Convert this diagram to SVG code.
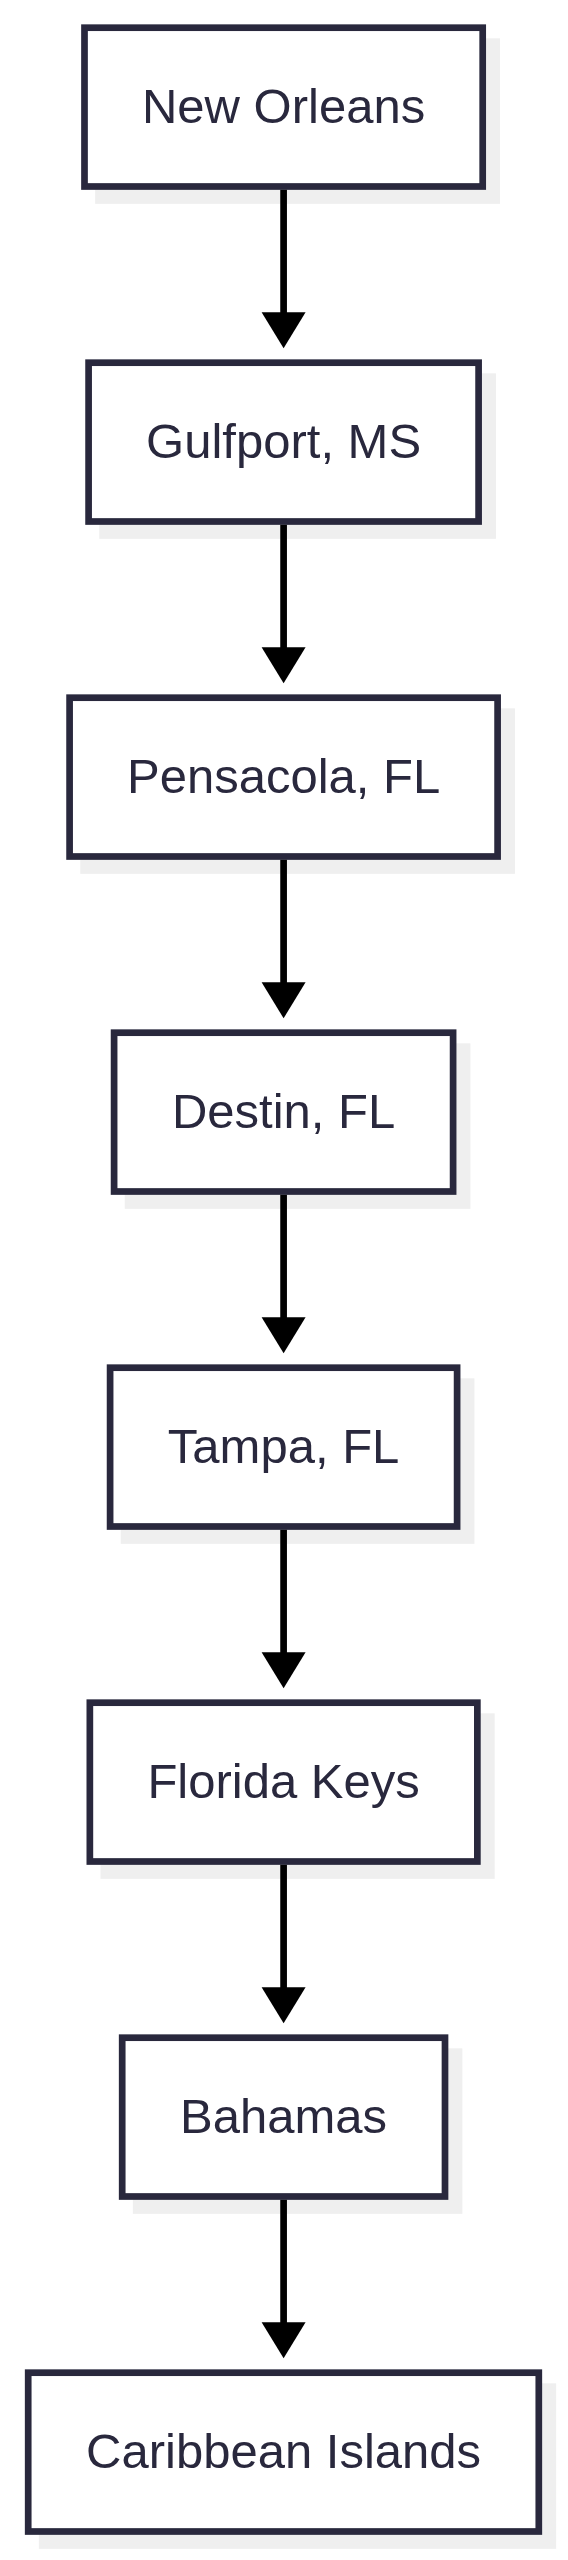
<svg xmlns="http://www.w3.org/2000/svg" xmlns:xlink="http://www.w3.org/1999/xlink" width="568" height="2560" viewBox="0 0 568 2560">
<style>
.shadow{fill:#efefef;stroke:none}
.box{fill:#ffffff;stroke:#29283d;stroke-width:6.7}
.lbl{font-family:"Liberation Sans",Arial,sans-serif;font-size:49px;fill:#29283d;text-anchor:middle}
.edge{stroke:#000000;stroke-width:6.7;fill:none}
.head{fill:#000000}
</style>
<defs>
<path id="ah" class="head" d="M-22,0 L22,0 L0,36 Z"/>
</defs>
<rect width="568" height="2560" fill="#ffffff"/>
<g id="node-new-orleans">
<rect class="shadow" x="95.15" y="38.35" width="404.9" height="165.5"/>
<rect class="box" x="84.5" y="27.7" width="398.2" height="158.8"/>
<text class="lbl" x="283.6" y="123.3">New Orleans</text>
</g>
<g id="node-gulfport">
<rect class="shadow" x="99.25" y="373.35" width="396.7" height="165.5"/>
<rect class="box" x="88.6" y="362.7" width="390" height="158.8"/>
<text class="lbl" x="283.6" y="458.3">Gulfport, MS</text>
</g>
<g id="node-pensacola">
<rect class="shadow" x="80.25" y="708.35" width="434.7" height="165.5"/>
<rect class="box" x="69.6" y="697.7" width="428" height="158.8"/>
<text class="lbl" x="283.6" y="793.3">Pensacola, FL</text>
</g>
<g id="node-destin">
<rect class="shadow" x="124.75" y="1043.35" width="345.7" height="165.5"/>
<rect class="box" x="114.1" y="1032.7" width="339" height="158.8"/>
<text class="lbl" x="283.6" y="1128.3">Destin, FL</text>
</g>
<g id="node-tampa">
<rect class="shadow" x="120.75" y="1378.35" width="353.7" height="165.5"/>
<rect class="box" x="110.1" y="1367.7" width="347" height="158.8"/>
<text class="lbl" x="283.6" y="1463.3">Tampa, FL</text>
</g>
<g id="node-florida-keys">
<rect class="shadow" x="100.5" y="1713.35" width="394.2" height="165.5"/>
<rect class="box" x="89.85" y="1702.7" width="387.5" height="158.8"/>
<text class="lbl" x="283.6" y="1798.3">Florida Keys</text>
</g>
<g id="node-bahamas">
<rect class="shadow" x="132.85" y="2048.35" width="329.5" height="165.5"/>
<rect class="box" x="122.2" y="2037.7" width="322.8" height="158.8"/>
<text class="lbl" x="283.6" y="2133.3">Bahamas</text>
</g>
<g id="node-caribbean">
<rect class="shadow" x="38.85" y="2383.35" width="517.3" height="165.5"/>
<rect class="box" x="28.2" y="2372.7" width="510.6" height="158.8"/>
<text class="lbl" x="283.6" y="2468.3">Caribbean Islands</text>
</g>
<g id="connectors">
<line class="edge" x1="283.6" y1="189.8" x2="283.6" y2="314.5"/>
<use xlink:href="#ah" x="283.6" y="312.3"/>
<line class="edge" x1="283.6" y1="524.8" x2="283.6" y2="649.5"/>
<use xlink:href="#ah" x="283.6" y="647.3"/>
<line class="edge" x1="283.6" y1="859.8" x2="283.6" y2="984.5"/>
<use xlink:href="#ah" x="283.6" y="982.3"/>
<line class="edge" x1="283.6" y1="1194.8" x2="283.6" y2="1319.5"/>
<use xlink:href="#ah" x="283.6" y="1317.3"/>
<line class="edge" x1="283.6" y1="1529.8" x2="283.6" y2="1654.5"/>
<use xlink:href="#ah" x="283.6" y="1652.3"/>
<line class="edge" x1="283.6" y1="1864.8" x2="283.6" y2="1989.5"/>
<use xlink:href="#ah" x="283.6" y="1987.3"/>
<line class="edge" x1="283.6" y1="2199.8" x2="283.6" y2="2324.5"/>
<use xlink:href="#ah" x="283.6" y="2322.3"/>
</g>
</svg>
